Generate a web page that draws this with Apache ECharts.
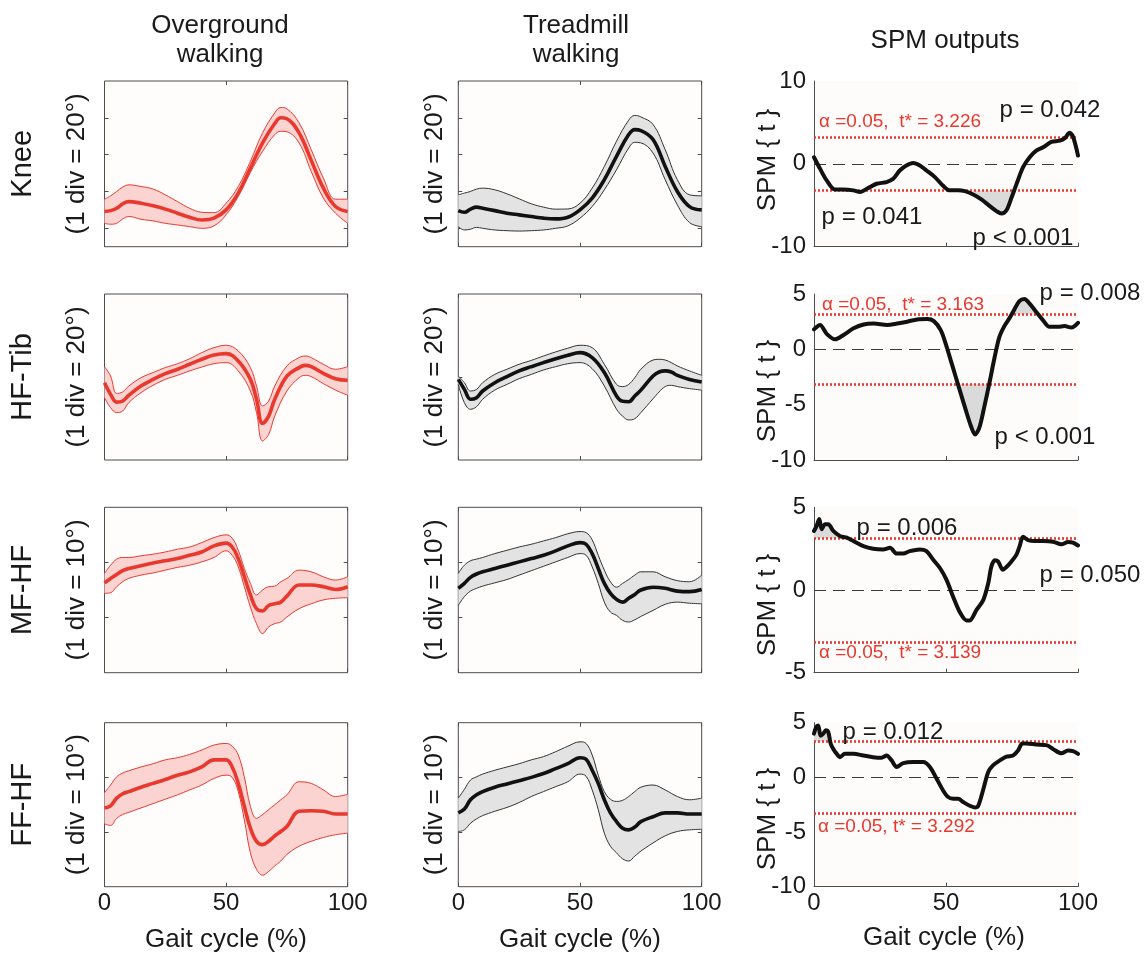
<!DOCTYPE html>
<html><head><meta charset="utf-8">
<script src="https://cdn.jsdelivr.net/npm/echarts@6/dist/echarts.min.js"></script>
<style>html,body{margin:0;padding:0;background:#fff}#c{width:1144px;height:956px}</style>
</head><body><div id="c"></div>
<script>
// ---------------- DATA ----------------
const rowNames = ['Knee', 'HF-Tib', 'MF-HF', 'FF-HF'];
const divLabels = ['(1 div = 20°)', '(1 div = 20°)', '(1 div = 10°)', '(1 div = 10°)'];
const colTitles = [['Overground', 'walking'], ['Treadmill', 'walking'], ['SPM outputs']];
const xTickLabels = [0, 50, 100];
const xTitle = 'Gait cycle (%)';

// Knee
const kneeX = [0,2.5,5,7.5,10,15,20,25,30,35,40,45,50,55,60,65,70,72.5,75,80,85,90,95,100];
const kneeOgMean  = [9.1,9.6,10.9,13.3,14.5,13.6,12.2,10.4,8.2,6.0,4.5,5.5,10.0,19.1,32.7,46.4,56.9,60.0,59.5,51.8,36.9,21.8,11.8,9.1];
const kneeOgUpper = [15.8,17.6,20.0,22.4,23.6,22.7,21.3,18.2,14.5,10.9,8.7,8.5,13.6,22.7,36.4,51.8,62.7,65.6,64.9,57.3,42.7,27.3,15.8,15.8];
const kneeOgLower = [2.7,2.2,2.7,5.1,6.4,4.9,4.0,2.7,1.8,0.9,0.0,1.3,7.3,17.3,30.4,41.8,50.9,52.7,52.4,46.4,30.9,16.4,8.2,2.7];
const kneeTmMean  = [9.6,8.7,10.4,11.5,10.9,9.6,8.2,7.3,6.4,5.5,5.1,6.0,10.0,16.4,26.4,39.1,50.9,53.6,53.1,48.2,33.6,20.0,11.8,10.0];
const kneeTmUpper = [18.2,19.1,20.0,21.3,21.8,20.9,18.7,16.0,13.3,11.5,10.4,10.5,13.6,21.8,33.6,47.3,58.7,61.3,60.5,56.4,42.7,26.4,18.2,17.6];
const kneeTmLower = [0.9,-0.9,-0.5,0.5,0.0,-0.9,-1.3,-1.5,-1.3,-0.9,0.0,1.3,5.5,11.8,20.9,31.8,43.6,46.7,46.4,40.9,26.4,12.7,3.1,0.9];

// HF-Tib
const hfOgX = [0,2.5,5,7.5,10,15,20,25,30,35,40,45,50,55,60,62.5,65,67.5,70,75,80,82.5,85,90,95,100];
const hfOgMean  = [-3.1,-9.4,-13.6,-13.0,-9.9,-4.9,-1.3,1.8,4.2,6.9,9.6,11.9,12.7,8.7,-1.3,-12.1,-25.1,-21.2,-12.1,0.5,5.1,6.3,5.6,2.0,-0.9,-1.8];
const hfOgUpper = [5.6,0.5,-8.9,-8.1,-4.9,-0.4,2.4,5.1,7.2,9.9,13.2,15.9,17.2,14.1,5.1,-4.9,-15.7,-13.0,-4.9,6.0,10.5,11.4,10.5,6.9,4.2,5.6];
const hfOgLower = [-11.2,-16.6,-19.3,-18.4,-13.9,-8.5,-4.5,-1.3,0.9,3.3,5.4,7.2,7.8,3.3,-7.6,-19.3,-34.7,-31.1,-21.2,-7.6,-0.4,0.9,0.2,-3.6,-7.1,-9.9];
const hfTmX = [0,2.5,5,7.5,10,15,20,25,30,35,40,45,50,55,60,65,67.5,70,72.5,75,80,82.5,85,87.5,90,95,100];
const hfTmMean  = [-1.3,-6.7,-12.1,-11.2,-7.6,-3.1,0.2,3.3,5.6,7.8,9.9,11.8,13.2,10.5,2.4,-10.3,-13.2,-13.4,-10.3,-7.1,0.5,2.7,3.3,2.7,0.9,-1.3,-2.7];
const hfTmUpper = [0.5,-3.1,-7.6,-6.7,-3.1,1.4,4.2,6.9,9.0,11.4,13.6,15.6,17.2,15.9,6.9,-4.0,-5.2,-4.0,-0.4,4.2,9.2,9.6,9.2,7.8,6.0,3.3,0.9];
const hfTmLower = [-4.0,-13.9,-17.5,-16.1,-12.1,-7.1,-4.0,-0.9,1.4,3.8,5.6,7.2,7.8,4.5,-4.9,-17.5,-21.2,-23.3,-22.6,-19.3,-11.8,-8.1,-5.2,-4.5,-5.2,-6.3,-7.1];

// MF-HF and FF-HF share a sampling grid
const footX = [0,2.5,5,7.5,10,15,20,25,30,35,40,45,50,52.5,55,57.5,60,62.5,65,67.5,70,72.5,75,80,85,90,95,100];
const mfOgMean  = [-3.7,-2.9,-2.2,-1.5,-1.1,-0.6,-0.1,0.3,0.7,1.3,1.9,3.0,3.5,2.8,0.7,-2.6,-5.9,-8.4,-8.8,-7.8,-7.5,-7.2,-6.1,-4.1,-4.1,-4.4,-4.9,-4.4];
const mfOgUpper = [-2.0,-0.5,0.6,0.9,0.9,1.2,1.5,1.9,2.4,2.8,3.6,4.5,5.0,4.4,2.2,-1.1,-3.8,-5.9,-5.0,-4.4,-4.3,-3.5,-2.9,-1.4,-1.7,-2.6,-3.2,-2.6];
const mfOgLower = [-5.6,-5.5,-4.4,-3.5,-2.9,-2.3,-1.9,-1.4,-0.9,-0.5,0.1,0.9,2.1,1.3,-0.8,-4.4,-8.1,-11.1,-12.9,-11.7,-11.1,-10.8,-9.9,-8.4,-7.5,-6.8,-6.5,-6.4];
const mfTmMean  = [-4.7,-3.8,-2.7,-2.1,-1.7,-1.1,-0.5,0.1,0.7,1.3,2.1,3.0,3.6,3.3,1.6,-1.1,-3.8,-5.6,-6.7,-7.2,-6.5,-5.8,-5.0,-4.5,-4.7,-5.2,-5.3,-4.9];
const mfTmUpper = [-2.0,-0.5,0.3,0.6,0.9,1.6,2.2,2.8,3.3,3.9,4.5,5.2,5.6,5.4,4.1,1.3,-1.4,-3.5,-4.5,-3.8,-3.1,-2.3,-1.7,-1.7,-2.6,-3.3,-3.5,-2.3];
const mfTmLower = [-7.8,-6.2,-5.2,-4.7,-4.3,-3.7,-3.1,-2.3,-1.5,-0.7,0.1,0.9,1.6,1.3,-0.8,-3.8,-7.2,-9.0,-9.6,-10.5,-10.8,-10.4,-9.8,-8.7,-7.6,-7.2,-7.4,-7.5];
const ffOgMean  = [-5.6,-5.2,-3.8,-3.0,-2.6,-1.8,-1.1,-0.4,0.4,1.0,1.9,3.2,3.2,1.9,-1.1,-5.3,-9.3,-11.7,-12.3,-11.7,-10.7,-9.9,-9.0,-6.2,-6.1,-6.2,-6.7,-6.7];
const ffOgUpper = [-2.8,-1.4,0.1,0.8,1.2,1.9,2.5,3.2,3.6,4.2,5.0,5.9,6.2,5.7,4.1,0.1,-5.3,-7.5,-6.8,-5.9,-5.0,-4.1,-3.2,-0.8,-1.1,-2.3,-3.5,-3.1];
const ffOgLower = [-8.5,-8.8,-7.5,-6.8,-6.4,-5.6,-4.8,-4.0,-3.2,-2.3,-1.4,-0.2,0.4,0.0,-2.6,-7.8,-13.8,-16.8,-17.9,-17.2,-16.2,-15.3,-14.1,-12.6,-11.7,-11.0,-10.5,-10.2];
const ffTmMean  = [-6.5,-5.8,-4.1,-3.2,-2.6,-1.8,-1.2,-0.6,0.0,0.7,1.6,2.5,3.6,3.3,1.3,-1.1,-4.1,-6.5,-8.1,-9.3,-9.6,-9.1,-8.1,-7.2,-6.5,-6.5,-6.7,-6.7];
const ffTmUpper = [-3.8,-2.2,-0.5,0.1,0.6,1.3,1.9,2.5,3.2,3.8,4.7,5.7,6.5,6.2,4.1,0.4,-2.6,-4.0,-4.4,-4.2,-3.5,-2.6,-1.8,-1.4,-2.3,-3.5,-4.1,-3.8];
const ffTmLower = [-9.9,-9.6,-8.4,-7.6,-7.0,-6.2,-5.5,-4.6,-3.5,-2.6,-1.7,-0.8,0.6,0.2,-2.3,-5.9,-10.2,-12.6,-13.8,-14.9,-15.3,-14.4,-13.5,-12.0,-10.7,-9.9,-9.6,-9.5];

// Axis ranges (degrees) and tick positions for the kinematic panels
const kinYMin = [-10, -45, -20, -20];
const kinYMax = [80, 45, 10, 10];
const kinTicks = [[0,20,40,60], [0], [-10,0], [-10,0]];

// SPM {t} curves
const spm1X = [0,2.3,4.8,7.9,11,14.9,17.4,20.6,23.7,27.5,30,32.5,35,37.6,40.1,42.6,45.8,48.9,51.5,54.6,57.1,60.3,63.4,66.6,69.1,71,72.9,74.8,76.7,79.2,81.7,84.2,86.8,89.9,93.1,95,96.8,98.1,100];
const spm1T = [0.8,-0.6,-2.0,-3.1,-3.1,-3.2,-3.4,-2.9,-2.4,-2.2,-1.8,-0.8,-0.2,0.1,-0.2,-0.8,-1.6,-2.65,-3.2,-3.2,-3.3,-3.7,-4.3,-5.1,-5.7,-6.0,-5.6,-4.1,-2.45,-0.4,0.8,1.6,2.0,2.65,2.8,3.1,3.75,3.3,1.0];
const spm2X = [0,2.3,4.8,8,11.2,15,18.8,22.6,27.7,31.5,35.3,39.1,42.9,45.4,48,49.9,51.8,53.7,55.6,57.5,59.4,61,62.6,64.5,66.4,68.3,70.2,72.1,74,75.9,77.8,79.7,81.6,84.1,86.7,89.2,92.4,94.9,97.5,100];
const spm2T = [1.8,2.2,1.4,0.9,1.3,1.9,2.25,2.33,2.2,2.33,2.5,2.7,2.73,2.55,1.73,0.5,-1.0,-2.5,-4.0,-5.5,-6.9,-7.7,-7.1,-5.2,-3.1,-0.85,1.1,2.1,2.8,3.6,4.36,4.55,4.15,3.4,2.64,2.03,2.03,2.1,1.97,2.4];
const spm3X = [0,1,2,2.9,4.2,5.4,7.3,9.8,12.4,14.9,18.7,22.4,26.2,28.8,31.3,33.8,36.3,40.1,42.6,45.1,47.7,50.2,52.7,55.2,57.8,59,61.5,64.1,66,67.2,68.5,69.7,71.6,72.9,74.8,76.7,77.9,79.2,81.1,83.6,86.8,90.5,93.7,96.2,98.1,100];
const spm3T = [3.57,3.88,4.29,3.67,3.98,3.98,3.57,3.27,3.16,2.96,2.65,2.49,2.45,2.55,2.2,2.2,2.35,2.45,2.35,1.84,1.33,0.61,-0.41,-1.33,-1.84,-1.84,-1.22,-0.61,0.41,1.43,1.8,1.73,1.22,1.39,1.73,2.14,2.65,3.22,3.02,2.96,2.96,2.92,2.76,2.9,2.86,2.69];
const spm4X = [0,0.8,1.6,2.5,3.5,4.5,5.4,6.3,7.3,8.6,9.8,11.7,14.9,18.7,22.4,25.6,27.5,29.4,31.3,33.8,37.6,41.4,43.9,46.4,48.9,50.8,52.7,54.6,56.5,59,60.9,62.2,64,66,67.8,70.4,72.9,75.4,77.3,78.9,80.5,84.2,88,90.5,93.7,96.2,98.1,100];
const spm4T = [4.0,4.6,4.75,3.8,4.0,4.3,4.15,3.1,2.6,2.15,1.85,2.15,2.15,2.0,1.85,1.8,2.0,1.55,0.95,1.3,1.4,1.4,0.95,-0.1,-1.2,-1.8,-1.95,-1.95,-2.25,-2.6,-2.75,-2.6,-1.2,0.5,1.1,1.55,1.9,2.0,2.45,3.1,3.1,3.0,2.95,2.6,2.2,2.45,2.4,2.15];
const spmThreshold = [3.226, 3.163, 3.139, 3.292];
const spmYMin = [-10, -10, -5, -10];
const spmYMax = [10, 5, 5, 5];
const spmYInterval = [10, 5, 5, 5];
const alphaLabels = ['α =0.05,  t* = 3.226', 'α =0.05,  t* = 3.163', 'α =0.05,  t* = 3.139', 'α =0.05, t* = 3.292'];
const pLabels = [
  [['p = 0.042', 1050, 110], ['p = 0.041', 872, 217], ['p < 0.001', 1023, 238]],
  [['p = 0.008', 1090, 293], ['p < 0.001', 1045, 437]],
  [['p = 0.006', 907, 528], ['p = 0.050', 1090, 575]],
  [['p = 0.012', 893, 732]]
];

// ---------------- LAYOUT / STYLE ----------------
const FF = '"Liberation Sans", Arial, Helvetica, sans-serif';
const RED = '#e8392f', PINK = '#fbd3d1', INK = '#111111', GREYBAND = '#e3e3e3', TXT = '#1a1a1a', BOX = '#4d4d4d';
const colLeft = [104.5, 458.3, 814];
const colWidth = [243.2, 243.4, 264];
const rowTop = [81, 294, 507.3, 722.7];
const rowHeight = [165.7, 166, 165.4, 164];
const alphaPos = [[819, 122], [822, 305], [819, 653], [818, 827]];
const spmNameY = [160, 391, 605, 819];

const kin = [
  {x: kneeX, og: [kneeOgMean, kneeOgUpper, kneeOgLower], tmx: kneeX, tm: [kneeTmMean, kneeTmUpper, kneeTmLower]},
  {x: hfOgX, og: [hfOgMean, hfOgUpper, hfOgLower], tmx: hfTmX, tm: [hfTmMean, hfTmUpper, hfTmLower]},
  {x: footX, og: [mfOgMean, mfOgUpper, mfOgLower], tmx: footX, tm: [mfTmMean, mfTmUpper, mfTmLower]},
  {x: footX, og: [ffOgMean, ffOgUpper, ffOgLower], tmx: footX, tm: [ffTmMean, ffTmUpper, ffTmLower]}
];
const spm = [[spm1X, spm1T], [spm2X, spm2T], [spm3X, spm3T], [spm4X, spm4T]];

const grids = [], xAxes = [], yAxes = [], series = [], texts = [];
const pairs = (xs, ys) => xs.map((v, i) => [v, ys[i]]);
// value first, x second: so that stacking is done on the y (value) dimension
const vxPairs = (xs, ys) => xs.map((v, i) => [ys[i], v]);

function xAxisDef(gi, pos, showLabel, showLine) {
  return {type: 'value', gridIndex: gi, min: 0, max: 100, interval: 50, position: pos,
    axisLine: {show: showLine, onZero: false, lineStyle: {color: BOX, width: 1}},
    axisTick: {show: true, inside: true, length: 4, lineStyle: {color: BOX}},
    splitLine: {show: false},
    axisLabel: {show: showLabel, fontSize: 24, color: TXT, fontFamily: FF, margin: 5,
      customValues: xTickLabels}};
}

for (let r = 0; r < 4; r++) {
  for (let c = 0; c < 2; c++) {
    const gi = grids.length;
    grids.push({left: colLeft[c], top: rowTop[r], width: colWidth[c], height: rowHeight[r],
      show: true, backgroundColor: '#fefdfc', borderColor: BOX, borderWidth: 1});
    const xb = xAxes.length; xAxes.push(xAxisDef(gi, 'bottom', r === 3, false));
    xAxes.push(xAxisDef(gi, 'top', false, false));
    const yl = yAxes.length;
    ['left', 'right'].forEach(p => yAxes.push({type: 'value', gridIndex: gi, position: p,
      min: kinYMin[r], max: kinYMax[r],
      axisLine: {show: false, onZero: false}, splitLine: {show: false}, axisLabel: {show: false},
      axisTick: {show: true, inside: true, length: 4, customValues: kinTicks[r], lineStyle: {color: BOX}}}));
    const k = kin[r];
    const xs = c === 0 ? k.x : k.tmx;
    const [mean, up, lo] = c === 0 ? k.og : k.tm;
    const edge = c === 0 ? RED : '#333333';
    const main = c === 0 ? RED : INK;
    const fill = c === 0 ? PINK : GREYBAND;
    const common = {type: 'line', xAxisIndex: xb, yAxisIndex: yl, symbol: 'none', smooth: 0.4,
      animation: false, silent: true};
    series.push(Object.assign({}, common, {data: vxPairs(xs, lo), encode: {x: 1, y: 0},
      stack: 'band' + gi, stackStrategy: 'all', lineStyle: {width: 1, color: edge}, z: 2}));
    series.push(Object.assign({}, common, {data: vxPairs(xs, up.map((u, i) => u - lo[i])), encode: {x: 1, y: 0},
      stack: 'band' + gi, stackStrategy: 'all', lineStyle: {width: 1, color: edge},
      areaStyle: {color: fill, opacity: 1}, z: 2}));
    series.push(Object.assign({}, common, {data: pairs(xs, mean), lineStyle: {width: 3.6, color: main}, z: 3}));
  }
  // SPM column
  const gi = grids.length;
  grids.push({left: colLeft[2], top: rowTop[r], width: colWidth[2], height: rowHeight[r],
    show: true, backgroundColor: '#fdfcfa', borderWidth: 0});
  const xb = xAxes.length; xAxes.push(xAxisDef(gi, 'bottom', r === 3, true));
  const yl = yAxes.length;
  yAxes.push({type: 'value', gridIndex: gi, position: 'left', min: spmYMin[r], max: spmYMax[r], interval: spmYInterval[r],
    axisLine: {show: true, onZero: false, lineStyle: {color: BOX, width: 1}}, axisTick: {show: false}, splitLine: {show: false},
    axisLabel: {fontSize: 24, color: TXT, fontFamily: FF, margin: 8}});
  const [sx, st] = spm[r];
  const thr = spmThreshold[r];
  const common = {type: 'line', xAxisIndex: xb, yAxisIndex: yl, symbol: 'none', animation: false, silent: true};
  series.push(Object.assign({}, common, {data: sx.map((v, i) => [v, Math.max(st[i], thr)]),
    lineStyle: {width: 0, opacity: 0}, areaStyle: {color: '#dadada', opacity: 1, origin: thr}, z: 1,
    markLine: {silent: true, symbol: ['none', 'none'], label: {show: false}, animation: false,
      data: [
        {yAxis: 0, lineStyle: {color: '#3a3a3a', type: [12, 7], width: 1.2}},
        {yAxis: thr, lineStyle: {color: RED, type: [2, 2], width: 2.6}},
        {yAxis: -thr, lineStyle: {color: RED, type: [2, 2], width: 2.6}}
      ]}}));
  series.push(Object.assign({}, common, {data: sx.map((v, i) => [v, Math.min(st[i], -thr)]),
    lineStyle: {width: 0, opacity: 0}, areaStyle: {color: '#dadada', opacity: 1, origin: -thr}, z: 1}));
  series.push(Object.assign({}, common, {data: pairs(sx, st), smooth: 0.3,
    lineStyle: {width: 4, color: INK, cap: 'round', join: 'round'}, z: 5}));
}

// ---------------- TEXT ----------------
function txt(text, x, y, size, opt) {
  opt = opt || {};
  const al = opt.align || 'center';
  return {type: 'text', x: x, y: y, rotation: opt.rot || 0, silent: true, z: 100,
    style: {text: text, font: 'normal ' + size + 'px ' + FF, fill: opt.color || TXT,
      textAlign: al, align: al, textVerticalAlign: 'middle', verticalAlign: 'middle'}};
}
const R90 = Math.PI / 2;
texts.push(txt(colTitles[0][0], 220, 25.5, 26), txt(colTitles[0][1], 220, 55, 26));
texts.push(txt(colTitles[1][0], 576, 25.5, 26), txt(colTitles[1][1], 576, 55, 26));
texts.push(txt(colTitles[2][0], 945, 41, 26));
for (let r = 0; r < 4; r++) {
  const cy = rowTop[r] + rowHeight[r] / 2;
  texts.push(txt(rowNames[r], 23, cy, 29, {rot: R90}));
  texts.push(txt(divLabels[r], 77, cy, 26, {rot: R90}));
  texts.push(txt(divLabels[r], 435, cy, 26, {rot: R90}));
  texts.push(txt('SPM { t }', 768, spmNameY[r], 26, {rot: R90}));
  texts.push(txt(alphaLabels[r], alphaPos[r][0], alphaPos[r][1], 19, {align: 'left', color: RED}));
  pLabels[r].forEach(p => texts.push(txt(p[0], p[1], p[2], 24)));
}
texts.push(txt(xTitle, 226, 940, 26), txt(xTitle, 580, 940, 26), txt(xTitle, 944, 938, 26));

const chart = echarts.init(document.getElementById('c'), null, {renderer: 'canvas'});
chart.setOption({animation: false, grid: grids, xAxis: xAxes, yAxis: yAxes, series: series,
  graphic: {elements: texts}});
</script>
</body></html>
